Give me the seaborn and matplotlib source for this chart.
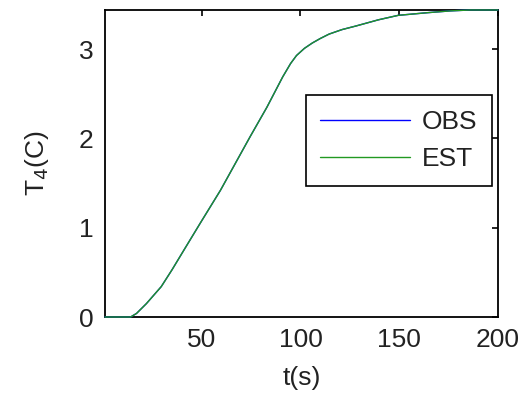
import pandas as pd
import numpy as np
import matplotlib
matplotlib.use("Agg")
import matplotlib.pyplot as plt
import seaborn as sns

# Values
t = [1, 8, 14, 17, 22, 29.5, 35, 41, 49.5, 59.5, 66, 74.5, 83, 91, 95, 98,
     102, 106, 110, 114.5, 121, 128, 139.5, 149.5, 164.5, 176, 186, 200]
T4 = [0.0, 0.0, 0.0, 0.04, 0.15, 0.34, 0.53, 0.75, 1.06, 1.42, 1.68, 2.02,
      2.35, 2.69, 2.84, 2.93, 3.01, 3.07, 3.12, 3.17, 3.22, 3.26, 3.33, 3.38,
      3.41, 3.43, 3.44, 3.44]
series = ['OBS', 'EST']

df = pd.concat([pd.DataFrame({'t': t, 'T4': T4, 'series': s}) for s in series])

sns.set_style("white")
plt.rcParams['font.family'] = ['Liberation Sans', 'DejaVu Sans']

fig = plt.figure(figsize=(5.22, 3.99), dpi=100)
ax = fig.add_axes([0.201, 0.2055, 0.753, 0.7695])

sns.lineplot(data=df, x='t', y='T4', hue='series', palette=['#0000ff', '#229922'],
             linewidth=1.0, ax=ax, estimator=None, sort=False)
for ln in ax.get_lines():
    ln.set_clip_on(False)
    ln.set_zorder(5)

ax.set_xlim(1, 200)
ax.set_ylim(0, 3.44)
ax.set_xticks([50, 100, 150, 200])
ax.set_yticks([0, 1, 2, 3])
ax.tick_params(direction='in', length=4, width=1.2, top=True, right=True,
               labelsize=19, pad=8, colors='#000000', labelcolor='#222222')
for sp in ax.spines.values():
    sp.set_color('black')
    sp.set_linewidth(1.3)

ax.set_xlabel('t(s)', fontsize=19, color='#222222', labelpad=10)
ax.set_ylabel('T$_4$(C)', fontsize=19, color='#222222', labelpad=20)

leg = ax.legend(loc='center right', bbox_to_anchor=(0.985, 0.575), fontsize=19,
                fancybox=False, edgecolor='black', framealpha=1, handlelength=3.4,
                borderaxespad=0, borderpad=0.55, labelspacing=0.5, handletextpad=0.45)
leg.get_frame().set_linewidth(1.2)
leg.set_zorder(10)
for txt in leg.get_texts():
    txt.set_color('#222222')

fig.savefig('out.png', dpi=100)
